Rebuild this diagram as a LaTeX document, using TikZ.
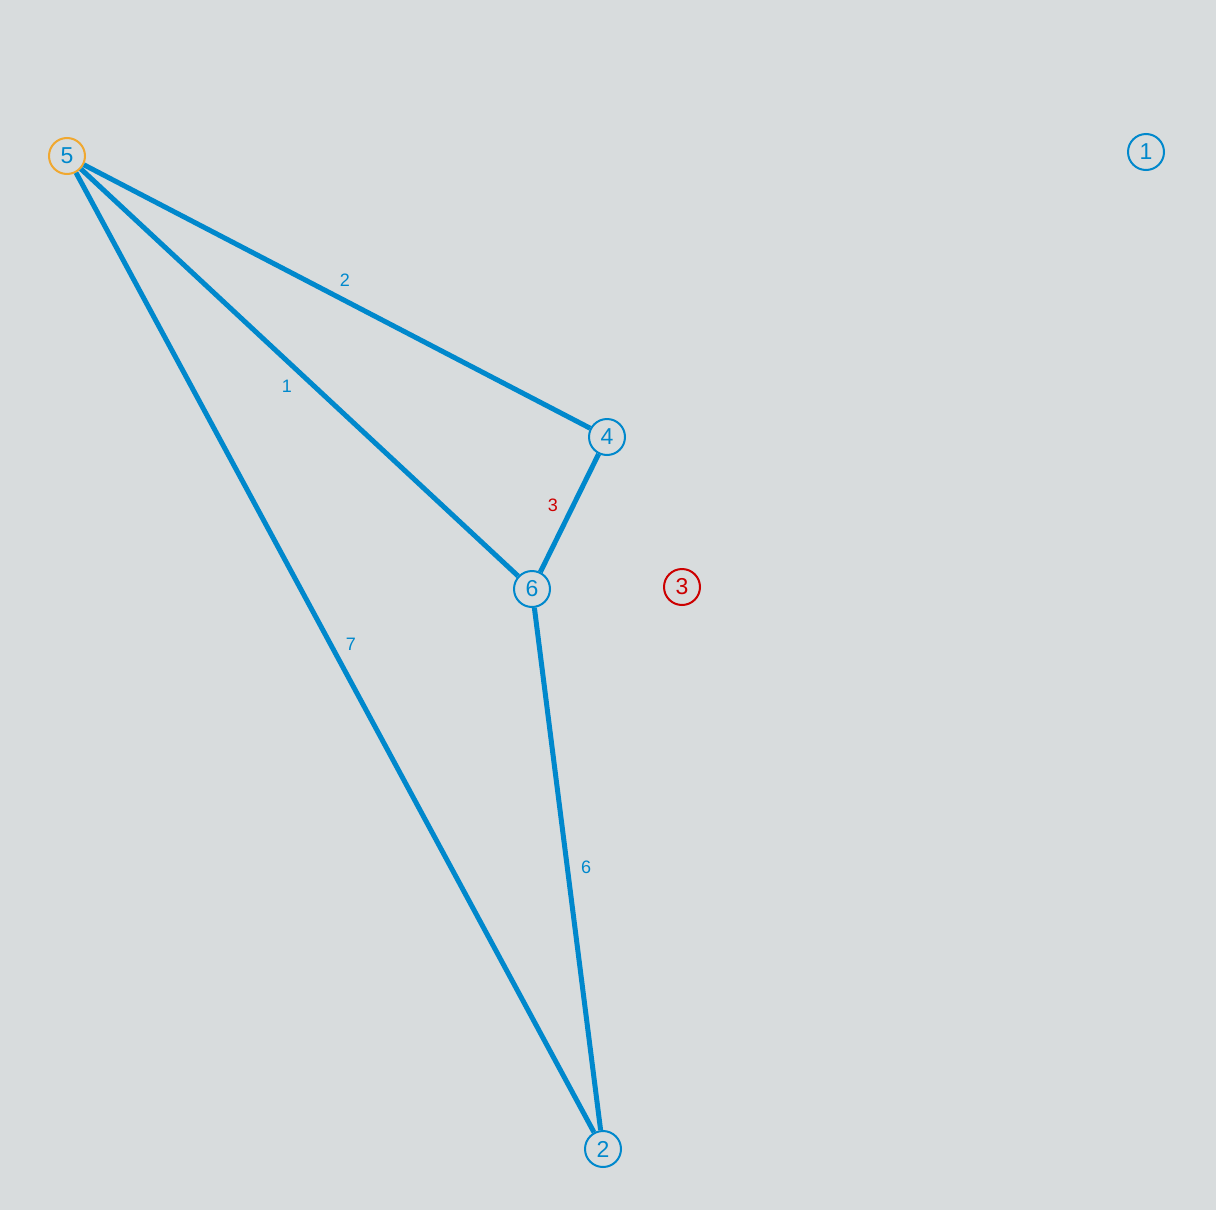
\documentclass[tikz,border=0pt]{standalone}
\usepackage{fontspec}
\setmainfont{Liberation Sans}
\definecolor{bg}{HTML}{D8DCDD}
\definecolor{eblue}{HTML}{0088CC}
\definecolor{eorange}{HTML}{F0A830}
\definecolor{ered}{HTML}{CC0000}
\begin{document}
\begin{tikzpicture}[x=1pt,y=-1pt,
  vtx/.style={circle,draw=eblue,fill=bg,line width=2pt,minimum size=36pt,inner sep=0pt,text=eblue,font=\fontsize{23}{23}\selectfont},
  edge/.style={draw=eblue,line width=5pt},
  elab/.style={text=eblue,font=\fontsize{18}{18}\selectfont,inner sep=0pt}]
\fill[bg] (0,0) rectangle (1216,1210);
\useasboundingbox (0,0) rectangle (1216,1210);
\node[vtx,draw=eorange] (n5) at (67,156) {5};
\node[vtx] (n1) at (1146,152) {1};
\node[vtx] (n4) at (607,437) {4};
\node[vtx] (n6) at (532,589) {6};
\node[vtx,draw=ered,text=ered] (n3) at (682,587) {3};
\node[vtx] (n2) at (603,1149) {2};
\draw[edge] (n5) -- (n4);
\draw[edge] (n5) -- (n6);
\draw[edge] (n5) -- (n2);
\draw[edge] (n4) -- (n6);
\draw[edge] (n6) -- (n2);
\node[elab] (l2) at (345,280) {2};
\node[elab] (l1) at (287,386) {1};
\node[elab,text=ered] (l3) at (553,505) {3};
\node[elab] (l7) at (351,644) {7};
\node[elab] (l6) at (586,867) {6};
\end{tikzpicture}
\end{document}
